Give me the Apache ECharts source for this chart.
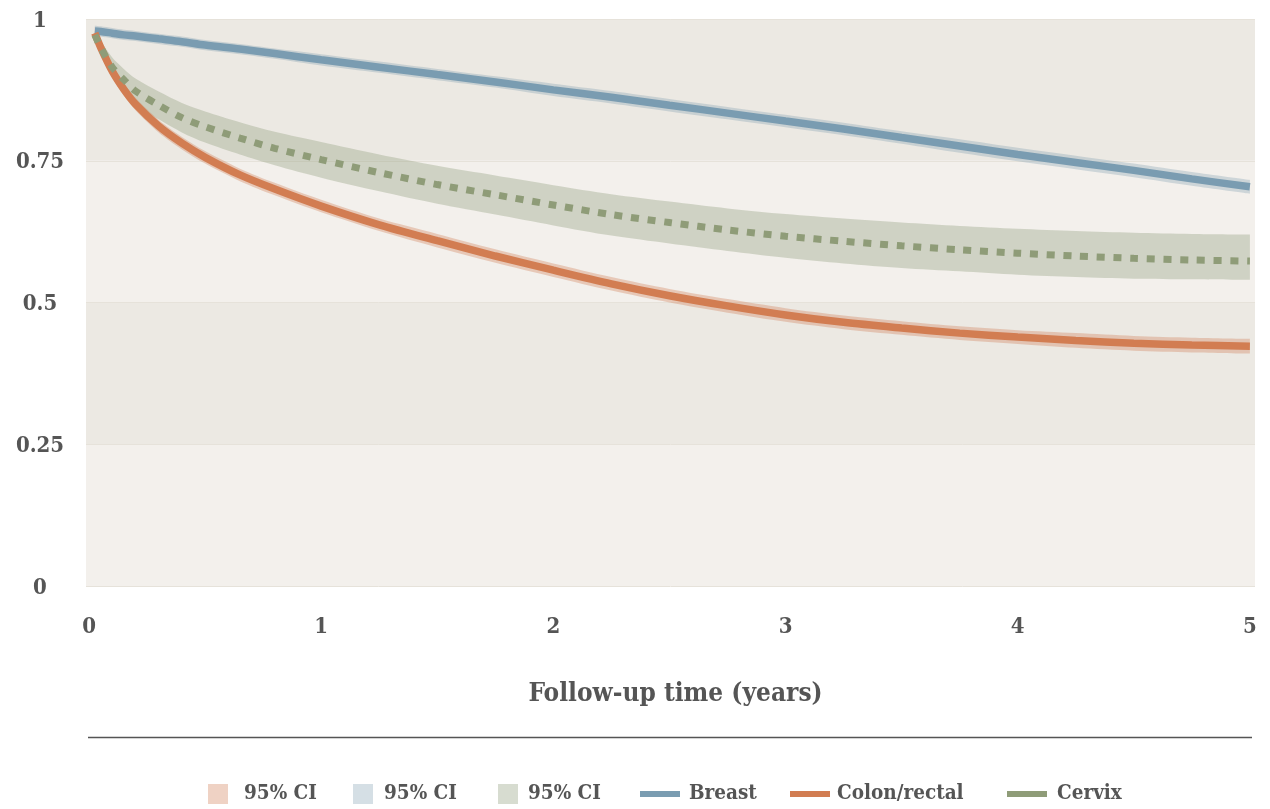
<!DOCTYPE html>
<html>
<head>
<meta charset="utf-8">
<script src="https://cdn.jsdelivr.net/npm/echarts@6/dist/echarts.min.js"></script>
<style>
html,body{margin:0;padding:0;background:#fff;}
#chart{width:1270px;height:809px;}
</style>
</head>
<body>
<div id="chart"></div>
<script>
// Follow-up time (years)
const times = [0.025,0.05,0.1,0.15,0.2,0.3,0.4,0.5,0.65,0.8,1,1.25,1.5,1.75,2,2.25,2.5,2.75,3,3.25,3.5,3.75,4,4.25,4.5,4.75,5];
const xTicks = [0,1,2,3,4,5];

const breast   = [.979,.978,.975,.972,.970,.965,.960,.954,.947,.939,.928,.915,.902,.889,.875,.862,.848,.834,.820,.806,.791,.776,.761,.747,.733,.718,.704];
const breastHi = [.988,.987,.984,.981,.979,.974,.969,.963,.956,.948,.938,.925,.912,.899,.886,.873,.859,.845,.831,.817,.802,.788,.773,.759,.745,.730,.716];
const breastLo = [.970,.969,.966,.963,.961,.956,.951,.945,.938,.930,.918,.905,.892,.879,.864,.851,.837,.823,.809,.795,.780,.764,.749,.735,.721,.706,.692];

const colon   = [.975,.950,.908,.876,.850,.811,.781,.756,.725,.700,.670,.637,.609,.582,.557,.533,.512,.494,.478,.465,.455,.446,.439,.433,.428,.425,.423];
const colonHi = [.986,.961,.919,.887,.861,.822,.792,.767,.736,.711,.681,.648,.621,.594,.569,.545,.524,.506,.490,.477,.467,.458,.451,.446,.441,.438,.436];
const colonLo = [.964,.939,.897,.865,.839,.800,.770,.745,.714,.689,.659,.626,.597,.570,.545,.521,.500,.482,.466,.453,.443,.434,.427,.420,.415,.412,.410];

const cervix   = [.972,.950,.915,.893,.873,.848,.826,.810,.790,.772,.752,.729,.708,.690,.672,.655,.641,.628,.617,.608,.600,.593,.587,.582,.578,.575,.573];
const cervixHi = [.978,.962,.932,.912,.895,.872,.852,.837,.818,.801,.783,.761,.741,.724,.707,.691,.678,.666,.656,.648,.641,.635,.630,.626,.623,.621,.620];
const cervixLo = [.965,.937,.897,.873,.851,.823,.800,.782,.761,.742,.720,.696,.674,.655,.636,.618,.604,.591,.579,.569,.561,.555,.549,.545,.542,.541,.540];

const FONT = '"DejaVu Serif Condensed", "DejaVu Serif", "Liberation Serif", serif';
const TXT = '#555555';
const C_BREAST = '#7a9cb1', C_COLON = '#d27d52', C_CERVIX = '#8f9c78';
const CI_COLON = 'rgba(209,127,86,0.35)', CI_BREAST = 'rgba(124,155,173,0.32)', CI_CERVIX = 'rgba(145,158,124,0.36)';

const pairs = (ys) => times.map((t, i) => [t, ys[i]]);
// band data stored as [value, time] so that the stacked dimension is the value
const lowPairs = (lo) => times.map((t, i) => [lo[i], t]);
const widthPairs = (hi, lo) => times.map((t, i) => [+(hi[i] - lo[i]).toFixed(4), t]);

function band(key, lo, hi, color) {
  return [
    { name: key + ' lo', type: 'line', stack: key, data: lowPairs(lo), encode: { x: 1, y: 0 },
      smooth: 0.3, symbol: 'none', silent: true, lineStyle: { opacity: 0, width: 0 }, z: 1 },
    { name: key, type: 'line', stack: key, data: widthPairs(hi, lo), encode: { x: 1, y: 0 },
      smooth: 0.3, symbol: 'none', silent: true, lineStyle: { opacity: 0, width: 0 },
      areaStyle: { color: color, opacity: 1 }, itemStyle: { color: color }, z: 1 }
  ];
}

function leg(left, w, h, name, color, text, padL) {
  return {
    left: left, top: 783.5, padding: 0, itemWidth: w, itemHeight: h, itemGap: 0,
    selectedMode: false,
    data: [{ name: name, icon: 'rect', itemStyle: { color: color } }],
    formatter: text ? () => text : '{name}',
    textStyle: { fontFamily: FONT, fontWeight: 'bold', fontSize: 20.5, color: TXT, padding: [0, 0, 0, padL] }
  };
}

const chart = echarts.init(document.getElementById('chart'), null, { renderer: 'canvas' });
chart.setOption({
  animation: false,
  backgroundColor: '#ffffff',
  grid: { left: 86, right: 15, top: 19, bottom: 223, containLabel: false },
  xAxis: {
    type: 'value', min: -0.013, max: 5.022,
    axisLine: { show: false }, axisTick: { show: false }, splitLine: { show: false },
    axisLabel: { customValues: xTicks, margin: 30, fontFamily: FONT, fontWeight: 'bold', fontSize: 22, color: TXT,
      formatter: v => String(v) },
    name: 'Follow-up time (years)', nameLocation: 'middle', nameGap: 95,
    nameTextStyle: { fontFamily: FONT, fontWeight: 'bold', fontSize: 26, color: TXT, padding: [0, 0, 0, 10] }
  },
  yAxis: {
    type: 'value', min: 0, max: 1, interval: 0.25,
    axisLine: { show: false }, axisTick: { show: false },
    axisLabel: { align: 'center', verticalAlign: 'top', lineHeight: 4, margin: 46, fontFamily: FONT,
      fontWeight: 'bold', fontSize: 22, color: TXT, formatter: v => String(v) },
    splitLine: { show: true, lineStyle: { color: '#e6e2da', width: 1 } },
    splitArea: { show: true, areaStyle: { color: ['#f3f0ec', '#ece9e3'] } }
  },
  legend: [
    leg(208, 20, 20, 'CI Colon', CI_COLON, '95% CI', 11),
    leg(353, 20, 20, 'CI Breast', CI_BREAST, '95% CI', 6),
    leg(498, 20, 20, 'CI Cervix', CI_CERVIX, '95% CI', 5),
    leg(640, 40, 6, 'Breast', C_BREAST, null, 4),
    leg(790, 40, 6, 'Colon/rectal', C_COLON, null, 2),
    leg(1007, 40, 6, 'Cervix', C_CERVIX, null, 5)
  ],
  graphic: [{
    type: 'line', shape: { x1: 88, y1: 737.5, x2: 1252, y2: 737.5 },
    style: { stroke: '#555555', lineWidth: 1.5 }, silent: true
  }],
  series: [
    ...band('CI Cervix', cervixLo, cervixHi, CI_CERVIX),
    ...band('CI Colon', colonLo, colonHi, CI_COLON),
    ...band('CI Breast', breastLo, breastHi, CI_BREAST),
    { name: 'Breast', type: 'line', data: pairs(breast), smooth: 0.3, symbol: 'none', z: 3,
      lineStyle: { color: C_BREAST, width: 7.5 }, itemStyle: { color: C_BREAST } },
    { name: 'Colon/rectal', type: 'line', data: pairs(colon), smooth: 0.3, symbol: 'none', z: 3,
      lineStyle: { color: C_COLON, width: 7.5 }, itemStyle: { color: C_COLON } },
    { name: 'Cervix', type: 'line', data: pairs(cervix), smooth: 0.3, symbol: 'none', z: 3,
      lineStyle: { color: C_CERVIX, width: 7, type: [8, 8.7], cap: 'butt' }, itemStyle: { color: C_CERVIX } }
  ]
});
</script>
</body>
</html>
